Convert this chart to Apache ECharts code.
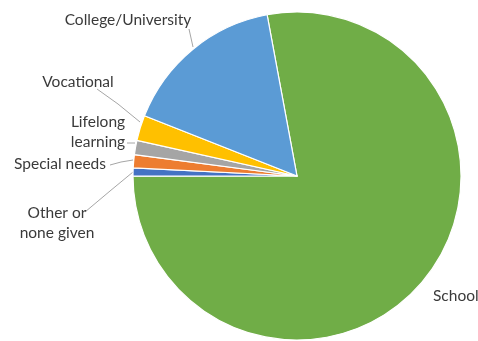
<!DOCTYPE html>
<html>
<head>
<meta charset="utf-8">
<script src="https://cdn.jsdelivr.net/npm/echarts@6/dist/echarts.min.js"></script>
<style>
  html, body { margin: 0; padding: 0; background: #fff; }
  #chart { width: 478px; height: 341px; }
</style>
</head>
<body>
<div id="chart"></div>
<script>
// Share of learners by type of provider (percent)
const categories = ['School', 'Other or\nnone given', 'Special needs', 'Lifelong\nlearning', 'Vocational', 'College/University'];
const shares = [77.9, 0.8, 1.3, 1.4, 2.5, 16.1];
const colors = ['#70AD47', '#4472C4', '#ED7D31', '#A5A5A5', '#FFC000', '#5B9BD5'];

// Where each label sits and how its leader line runs
const labelPlacement = {
  'School':             { x: 433, y: 296, align: 'left',   line: null },
  'Other or\nnone given': { x: 57, y: 223, align: 'center', line: [[133, 172], [110, 191], [85, 212]] },
  'Special needs':      { x: 60, y: 164, align: 'center', line: [[133, 160], [121, 162], [110, 165]] },
  'Lifelong\nlearning': { x: 98, y: 132, align: 'center', line: [[135, 143], [131, 143], [127, 143]] },
  'Vocational':         { x: 78, y: 82,  align: 'center', line: [[140, 122], [118, 104], [97, 89]] },
  'College/University': { x: 128, y: 20, align: 'center', line: [[193, 47], [191, 38], [189, 29]] }
};

const chart = echarts.init(document.getElementById('chart'), null, { renderer: 'canvas' });

chart.setOption({
  animation: false,
  backgroundColor: '#ffffff',
  series: [{
    type: 'pie',
    center: [297, 176],
    radius: 164,
    startAngle: 100.5,
    clockwise: true,
    avoidLabelOverlap: false,
    itemStyle: { borderColor: '#ffffff', borderWidth: 1.2 },
    label: {
      show: true,
      position: 'outside',
      formatter: '{b}',
      color: '#3a3a3a',
      fontFamily: 'Lato, "Open Sans", sans-serif',
      fontSize: 15.5,
      lineHeight: 20
    },
    labelLine: {
      show: true,
      lineStyle: { color: '#A6A6A6', width: 1 }
    },
    labelLayout: function (params) {
      const p = labelPlacement[categories[params.dataIndex]];
      const out = { x: p.x, y: p.y, align: p.align, verticalAlign: 'middle' };
      out.labelLinePoints = p.line ? p.line : [[0, 0], [0, 0], [0, 0]];
      return out;
    },
    data: categories.map((name, i) => ({
      name: name,
      value: shares[i],
      itemStyle: { color: colors[i] },
      labelLine: { show: labelPlacement[name].line !== null }
    }))
  }]
});
</script>
</body>
</html>
